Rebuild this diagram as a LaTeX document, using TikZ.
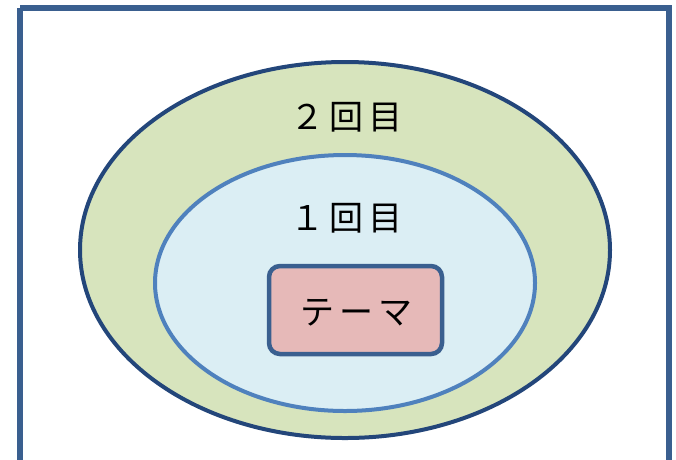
\documentclass[tikz,border=0pt]{standalone}
\usepackage{fontspec}
\usetikzlibrary{shapes.geometric}
\newfontfamily\jpfont{Noto Sans CJK JP}
\definecolor{frameblue}{HTML}{3A5F8F}
\definecolor{darkblue}{HTML}{23467A}
\definecolor{midblue}{HTML}{4F81BD}
\definecolor{greenfill}{HTML}{D7E4BD}
\definecolor{bluefill}{HTML}{DBEEF4}
\definecolor{pinkfill}{HTML}{E6B9B8}
\newcommand{\gap}{\hspace{5pt}}
\begin{document}
\begin{tikzpicture}[x=1pt,y=-1pt,
  lbl/.style={font=\jpfont\fontsize{34}{36}\selectfont, text=black, inner sep=0pt}]
\useasboundingbox (0,0) rectangle (676,459);
% outer frame (runs past the bottom edge)
\draw[frameblue, line width=5.5pt] (20,8) -- (669,8) -- (669,480) (20,8) -- (20,480);
% nested sets
\node[draw=darkblue, fill=greenfill, line width=4pt, ellipse, minimum width=530pt, minimum height=376pt, inner sep=0pt] (outer) at (345,250) {};
\node[draw=midblue, fill=bluefill, line width=4pt, ellipse, minimum width=380pt, minimum height=256pt, inner sep=0pt] (inner) at (345,283) {};
\node[draw=frameblue, fill=pinkfill, line width=4.5pt, rounded corners=11pt, minimum width=173pt, minimum height=88pt, inner sep=0pt] (theme) at (355.5,310) {};
\node[lbl] (t2) at (346,117) {２\gap 回\gap 目};
\node[lbl] (t1) at (346,218) {１\gap 回\gap 目};
\node[lbl] (tt) at (356,313) {テ\gap ー\gap マ};
\end{tikzpicture}
\end{document}
